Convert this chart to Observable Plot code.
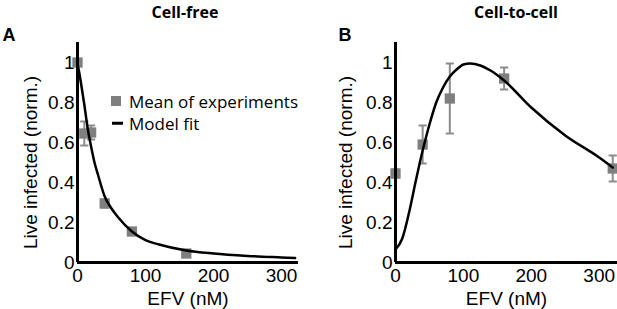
<!DOCTYPE html>
<html>
<head>
<meta charset="utf-8">
<script src="https://cdn.jsdelivr.net/npm/d3@7"></script>
<script src="https://cdn.jsdelivr.net/npm/@observablehq/plot@0.6"></script>
<style>
  html, body { margin: 0; padding: 0; background: white; }
  #wrap { position: relative; width: 617px; height: 309px; background: white; overflow: hidden; }
  .panel { position: absolute; top: 0; }
  .title { position: absolute; font-family: "Open Sans", sans-serif; font-weight: bold; font-size: 16px; transform: translate(-50%, -50%); white-space: nowrap; }
  .letter { position: absolute; font-family: "Liberation Sans", Arial, sans-serif; font-weight: bold; font-size: 18px; transform: translate(-50%, -50%); }
  .leg { position: absolute; font-family: "Open Sans", sans-serif; font-size: 17px; white-space: nowrap; transform: translateY(-50%); }
  .sq { position: absolute; width: 10px; height: 10px; background: #7f7f7f; transform: translate(-50%, -50%); }
  .ln { position: absolute; width: 11px; height: 2.5px; background: #000; transform: translateY(-50%); }
</style>
</head>
<body>
<div id="wrap">
  <div id="pa" class="panel" style="left:0"></div>
  <div id="pb" class="panel" style="left:308px"></div>
  <div class="title" style="left:185px; top:12px">Cell-free</div>
  <div class="title" style="left:516px; top:12px">Cell-to-cell</div>
  <div class="letter" style="left:9px; top:35px">A</div>
  <div class="letter" style="left:345px; top:35px">B</div>
  <div class="sq" style="left:116px; top:101px"></div>
  <div class="leg" style="left:129px; top:101px">Mean of experiments</div>
  <div class="ln" style="left:112px; top:123px"></div>
  <div class="leg" style="left:129px; top:123px">Model fit</div>
</div>
<script>
// ---- data ----
const xTicks = [0, 100, 200, 300];
const yTicks = [0, 0.2, 0.4, 0.6, 0.8, 1];
const xLabel = "EFV (nM)";
const yLabel = "Live infected (norm.)";

// Panel A: cell-free
const aDose = [0, 10, 20, 40, 80, 160];
const aMean = [1.0, 0.645, 0.65, 0.295, 0.155, 0.045];
const aErr  = [0.01, 0.06, 0.035, 0.02, 0.01, 0.01];
const aFitDose = [0, 2, 5, 10, 15, 20, 25, 30, 40, 50, 60, 80, 100, 120, 160, 200, 250, 300, 320];
const aFitVal  = [0.99, 0.96, 0.9, 0.79, 0.67, 0.58, 0.5, 0.44, 0.33, 0.27, 0.225, 0.155, 0.112, 0.09, 0.06, 0.045, 0.033, 0.025, 0.022];

// Panel B: cell-to-cell
const bDose = [0, 40, 80, 160, 320];
const bMean = [0.445, 0.59, 0.82, 0.92, 0.47];
const bErr  = [0.02, 0.095, 0.175, 0.055, 0.065];
const bFitDose = [0, 10, 20, 30, 40, 50, 60, 70, 80, 90, 100, 110, 125, 140, 160, 200, 250, 300, 320];
const bFitVal  = [0.065, 0.12, 0.25, 0.41, 0.56, 0.69, 0.8, 0.875, 0.93, 0.965, 0.99, 0.995, 0.985, 0.96, 0.91, 0.775, 0.635, 0.525, 0.475];

const capHalf = 6; // half-width of error-bar caps, in dose units
const fs = 19;

function panel(dose, mean, err, fitDose, fitVal, opts) {
  const pts = dose.map((d, i) => ({x: d, y: mean[i], lo: mean[i] - err[i], hi: mean[i] + err[i]}));
  const fit = fitDose.map((d, i) => ({x: d, y: fitVal[i]}));
  const gray = "#7f7f7f";
  const barGray = "#8c8c8c";
  return Plot.plot({
    width: opts.width,
    height: 309,
    marginLeft: opts.marginLeft,
    marginRight: opts.marginRight,
    marginTop: 42,
    marginBottom: 47,
    style: {fontFamily: "'Liberation Sans', Arial, sans-serif", fontSize: fs + "px", color: "black", background: "white", overflow: "visible"},
    x: {domain: [0, opts.xMax]},
    y: {domain: [0, 1.1]},
    marks: [
      Plot.axisX({ticks: xTicks, tickSize: 0, tickPadding: 6, label: null, fontSize: fs}),
      Plot.axisY({ticks: yTicks, tickSize: 0, tickPadding: 3, label: null, fontSize: fs, tickFormat: d3.format("")}),
      Plot.text([xLabel], {frameAnchor: "bottom", lineAnchor: "middle", textAnchor: "middle", dy: 36, fontSize: fs}),
      Plot.text([yLabel], {frameAnchor: "left", textAnchor: "middle", lineAnchor: "middle", dx: opts.yLabelDx, dy: 10, rotate: -90, fontSize: fs}),
      Plot.ruleX(pts, {x: "x", y1: "lo", y2: "hi", stroke: barGray, strokeWidth: 2}),
      Plot.link(pts, {x1: d => d.x - capHalf, x2: d => d.x + capHalf, y1: "hi", y2: "hi", stroke: barGray, strokeWidth: 2}),
      Plot.link(pts, {x1: d => d.x - capHalf, x2: d => d.x + capHalf, y1: "lo", y2: "lo", stroke: barGray, strokeWidth: 2}),
      Plot.dot(pts, {x: "x", y: "y", symbol: "square", r: 5.8, fill: gray, stroke: "none"}),
      Plot.line(fit, {x: "x", y: "y", curve: "monotone-x", stroke: "black", strokeWidth: 2.5}),
      Plot.ruleX([0], {stroke: "black", strokeWidth: 3}),
      Plot.ruleY([0], {stroke: "black", strokeWidth: 3})
    ]
  });
}

document.getElementById("pa").append(
  panel(aDose, aMean, aErr, aFitDose, aFitVal, {width: 308, marginLeft: 77, marginRight: 10, xMax: 325, yLabelDx: -47})
);
document.getElementById("pb").append(
  panel(bDose, bMean, bErr, bFitDose, bFitVal, {width: 309, marginLeft: 87, marginRight: 0, xMax: 327, yLabelDx: -50})
);
</script>
</body>
</html>
